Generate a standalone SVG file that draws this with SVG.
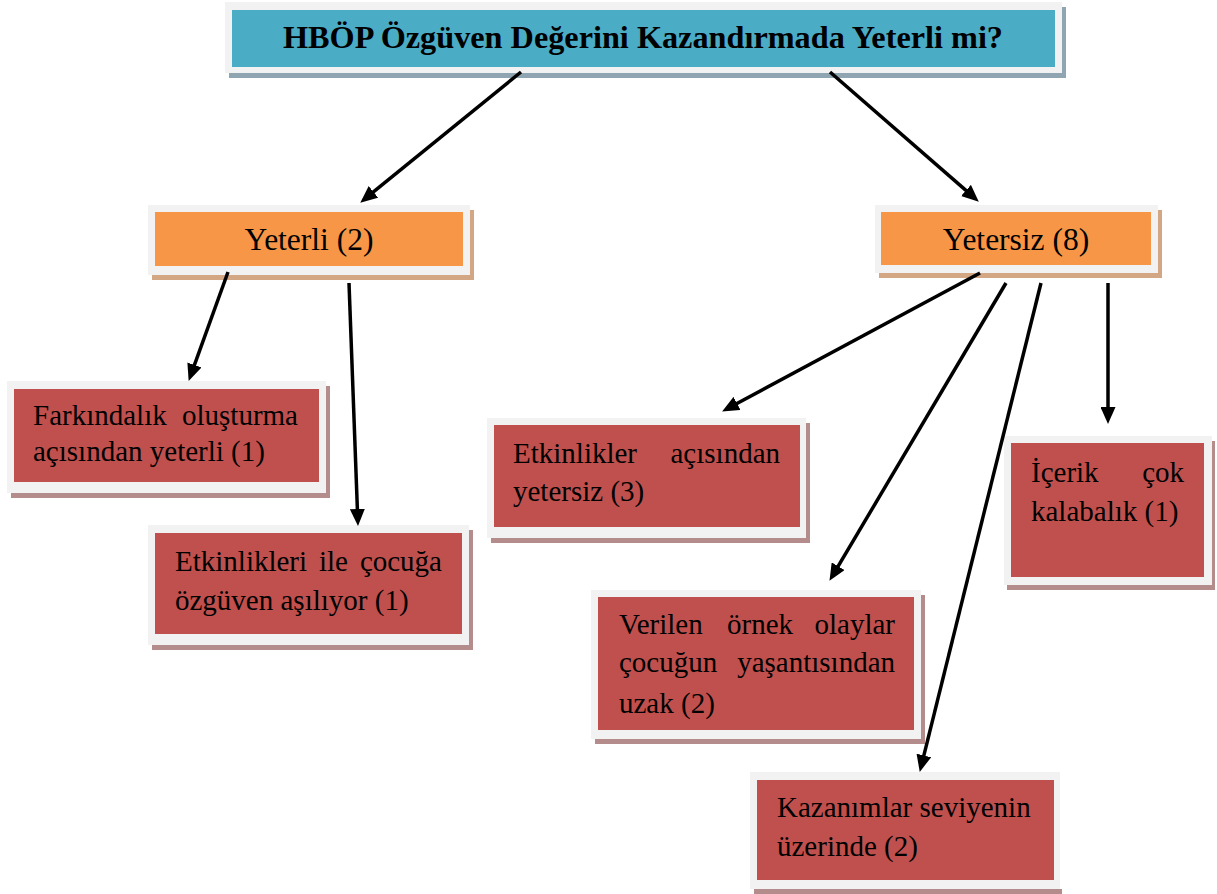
<svg xmlns="http://www.w3.org/2000/svg" width="1217" height="894" viewBox="0 0 1217 894">
<style>
.frame{fill:#f2f2f2}
.sh-b{fill:#8fa5b1}
.sh-o{fill:#d4a784}
.sh-r{fill:#b48c8c}
.blue{fill:#4bacc6}
.orange{fill:#f79646}
.red{fill:#c0504d}
text{font-family:"Liberation Serif","Times New Roman",serif;fill:#000}
.t{font-size:29px}
.big{font-size:31.5px}
.title{font-size:31px;font-weight:bold}
.conn line{stroke:#000;stroke-width:3.5}
</style>
<defs>
<marker id="ah" markerUnits="userSpaceOnUse" markerWidth="17" markerHeight="15" refX="6" refY="7.5" orient="auto">
<path d="M0,0 L17,7.5 L0,15 z" fill="#000"/>
</marker>
</defs>
<rect width="1217" height="894" fill="#fff"/>

<g id="title">
<rect class="sh-b" x="229" y="7" width="837" height="71"/>
<rect class="frame" x="225" y="2" width="837" height="71"/>
<rect class="blue" x="232" y="10" width="823" height="57"/>
<text class="title" x="643" y="48" text-anchor="middle" textLength="720" lengthAdjust="spacingAndGlyphs">HBÖP Özgüven Değerini Kazandırmada Yeterli mi?</text>
</g>

<g id="yeterli">
<rect class="sh-o" x="152" y="210" width="322" height="70"/>
<rect class="frame" x="148" y="205" width="322" height="70"/>
<rect class="orange" x="155" y="212" width="308" height="54"/>
<text class="big" x="309" y="250" text-anchor="middle">Yeterli (2)</text>
</g>

<g id="yetersiz">
<rect class="sh-o" x="879" y="210" width="283" height="68"/>
<rect class="frame" x="875" y="205" width="283" height="68"/>
<rect class="orange" x="881" y="212" width="270" height="53"/>
<text class="big" x="1016" y="250" text-anchor="middle">Yetersiz (8)</text>
</g>

<g id="farkindalik">
<rect class="sh-r" x="11" y="386" width="319" height="112"/>
<rect class="frame" x="7" y="381" width="319" height="112"/>
<rect class="red" x="14" y="389" width="305" height="93"/>
<text class="t" x="33" y="425">Farkındalık</text>
<text class="t" x="298" y="425" text-anchor="end">oluşturma</text>
<text class="t" x="33" y="461">açısından yeterli (1)</text>
</g>

<g id="etkinlikleri">
<rect class="sh-r" x="152" y="530" width="321" height="120"/>
<rect class="frame" x="148" y="525" width="321" height="120"/>
<rect class="red" x="155" y="533" width="307" height="101"/>
<text class="t" x="175" y="571">Etkinlikleri</text>
<text class="t" x="319" y="571">ile</text>
<text class="t" x="442" y="571" text-anchor="end">çocuğa</text>
<text class="t" x="175" y="610">özgüven aşılıyor (1)</text>
</g>

<g id="etkinlikler">
<rect class="sh-r" x="491" y="423" width="319" height="120"/>
<rect class="frame" x="487" y="418" width="319" height="120"/>
<rect class="red" x="494" y="425" width="306" height="102"/>
<text class="t" x="513" y="463">Etkinlikler</text>
<text class="t" x="780" y="463" text-anchor="end">açısından</text>
<text class="t" x="513" y="501">yetersiz (3)</text>
</g>

<g id="icerik">
<rect class="sh-r" x="1007" y="441" width="208" height="149"/>
<rect class="frame" x="1004" y="436" width="208" height="149"/>
<rect class="red" x="1011" y="443" width="193" height="134"/>
<text class="t" x="1031" y="482">İçerik</text>
<text class="t" x="1184" y="482" text-anchor="end">çok</text>
<text class="t" x="1031" y="521">kalabalık (1)</text>
</g>

<g id="verilen">
<rect class="sh-r" x="595" y="595" width="330" height="149"/>
<rect class="frame" x="591" y="590" width="330" height="149"/>
<rect class="red" x="598" y="597" width="316" height="133"/>
<text class="t" x="619" y="634">Verilen</text>
<text class="t" x="727" y="634">örnek</text>
<text class="t" x="895" y="634" text-anchor="end">olaylar</text>
<text class="t" x="619" y="672">çocuğun</text>
<text class="t" x="895" y="672" text-anchor="end">yaşantısından</text>
<text class="t" x="619" y="713">uzak (2)</text>
</g>

<g id="kazanimlar">
<rect class="sh-r" x="754" y="889" width="308" height="10"/>
<rect class="frame" x="750" y="772" width="310" height="117"/>
<rect class="red" x="757" y="780" width="297" height="100"/>
<text class="t" x="777" y="817">Kazanımlar seviyenin</text>
<text class="t" x="777" y="856">üzerinde (2)</text>
</g>

<g id="connectors" class="conn">
<line x1="521" y1="72" x2="368.8" y2="195.7" marker-end="url(#ah)"/>
<line x1="830" y1="72" x2="970.5" y2="194.4" marker-end="url(#ah)"/>
<line x1="228" y1="272" x2="192.4" y2="370.6" marker-end="url(#ah)"/>
<line x1="349" y1="283" x2="357.6" y2="515" marker-end="url(#ah)"/>
<line x1="980" y1="273" x2="731.8" y2="406.3" marker-end="url(#ah)"/>
<line x1="1006" y1="283" x2="835.1" y2="571.4" marker-end="url(#ah)"/>
<line x1="1041" y1="283" x2="922.4" y2="761.3" marker-end="url(#ah)"/>
<line x1="1108" y1="283" x2="1108" y2="413" marker-end="url(#ah)"/>
</g>
</svg>
